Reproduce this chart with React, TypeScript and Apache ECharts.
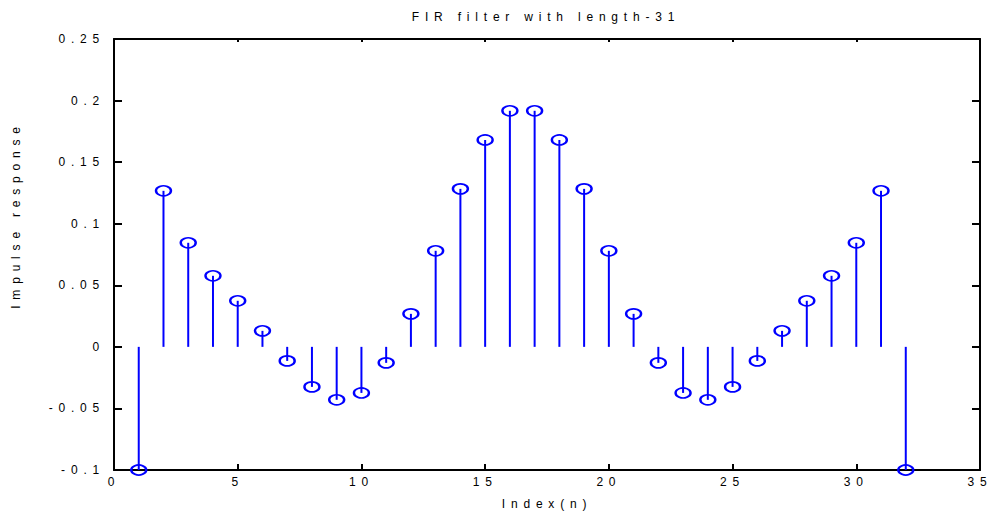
import React, { useEffect, useRef } from "react";
import * as echarts from "echarts";

const indices = [
  1, 2, 3, 4, 5, 6, 7, 8, 9, 10, 11, 12, 13, 14, 15, 16,
  17, 18, 19, 20, 21, 22, 23, 24, 25, 26, 27, 28, 29, 30, 31, 32,
];
const responses = [
  -0.1, 0.1267, 0.0845, 0.0577, 0.0374, 0.013, -0.0114, -0.0325,
  -0.043, -0.0374, -0.013, 0.0268, 0.078, 0.1283, 0.168, 0.1917,
  0.1917, 0.168, 0.1283, 0.078, 0.0268, -0.013, -0.0374, -0.043,
  -0.0325, -0.0114, 0.013, 0.0374, 0.0577, 0.0845, 0.1267, -0.1,
];
const titleText = "FIR filter with length-31";
const xLabel = "Index(n)";
const yLabel = "Impulse response";

export default function App() {
  const ref = useRef<HTMLDivElement>(null);
  useEffect(() => {
    if (!ref.current) return;
    const chart = echarts.init(ref.current, undefined, { renderer: "svg" });
    const pts = indices.map((x, i) => [x, responses[i]]);
    const font = "Liberation Sans, Arial, sans-serif";
    const txt = "#000";
    const axisLine = { show: true, onZero: false, lineStyle: { color: "#000", width: 2 } };
    chart.setOption({
      animation: false,
      backgroundColor: "#fff",
      textStyle: { fontFamily: font },
      grid: { left: 114, right: 12, top: 39, bottom: 45, containLabel: false, outerBoundsMode: "none" },
      graphic: [
        {
          type: "text",
          x: 546,
          y: 17,
          style: { text: titleText, fontSize: 12, fontFamily: font, fill: txt, textAlign: "center", textVerticalAlign: "middle" },
        },
        {
          type: "text",
          x: 547,
          y: 504,
          style: { text: xLabel, fontSize: 12, fontFamily: font, fill: txt, textAlign: "center", textVerticalAlign: "middle" },
        },
        {
          type: "text",
          x: 16,
          y: 215,
          rotation: Math.PI / 2,
          style: { text: yLabel, fontSize: 12, fontFamily: font, fill: txt, textAlign: "center", textVerticalAlign: "middle" },
        },
      ],
      xAxis: [
        {
          type: "value",
          min: 0,
          max: 35,
          interval: 5,
          position: "bottom",
          axisLine,
          axisTick: { inside: true, length: 6, lineStyle: { color: "#000", width: 2 } },
          axisLabel: { color: txt, fontSize: 12, margin: 6, fontFamily: font },
          splitLine: { show: false },
        },
        {
          type: "value",
          min: 0,
          max: 35,
          interval: 5,
          position: "top",
          axisLine,
          axisTick: { inside: true, length: 3, lineStyle: { color: "#000", width: 2 } },
          axisLabel: { show: false },
          splitLine: { show: false },
        },
      ],
      yAxis: [
        {
          type: "value",
          min: -0.1,
          max: 0.25,
          interval: 0.05,
          position: "left",
          axisLine,
          axisTick: { inside: true, length: 8, lineStyle: { color: "#000", width: 2 } },
          axisLabel: { color: txt, fontSize: 12, margin: 9, fontFamily: font },
          splitLine: { show: false },
        },
        {
          type: "value",
          min: -0.1,
          max: 0.25,
          interval: 0.05,
          position: "right",
          axisLine,
          axisTick: { inside: true, length: 8, lineStyle: { color: "#000", width: 2 } },
          axisLabel: { show: false },
          splitLine: { show: false },
        },
      ],
      series: [
        {
          type: "custom",
          xAxisIndex: 0,
          yAxisIndex: 0,
          data: pts,
          renderItem: (params: any, api: any) => {
            const p0 = api.coord([api.value(0), 0]);
            const p1 = api.coord([api.value(0), api.value(1)]);
            return {
              type: "line",
              shape: { x1: p0[0], y1: p0[1], x2: p1[0], y2: p1[1] },
              style: { stroke: "#0000ff", lineWidth: 2 },
            };
          },
          z: 2,
        },
        {
          type: "scatter",
          xAxisIndex: 0,
          yAxisIndex: 0,
          data: pts,
          symbol: "circle",
          symbolSize: [15, 10],
          itemStyle: { color: "rgba(0,0,0,0)", borderColor: "#0000ff", borderWidth: 2, opacity: 1 },
          z: 3,
        },
      ],
    });
    return () => chart.dispose();
  }, []);
  return (
    <div
      ref={ref}
      style={{ position: "fixed", left: 0, top: 0, width: 992, height: 515, letterSpacing: "5.8px" }}
    />
  );
}
